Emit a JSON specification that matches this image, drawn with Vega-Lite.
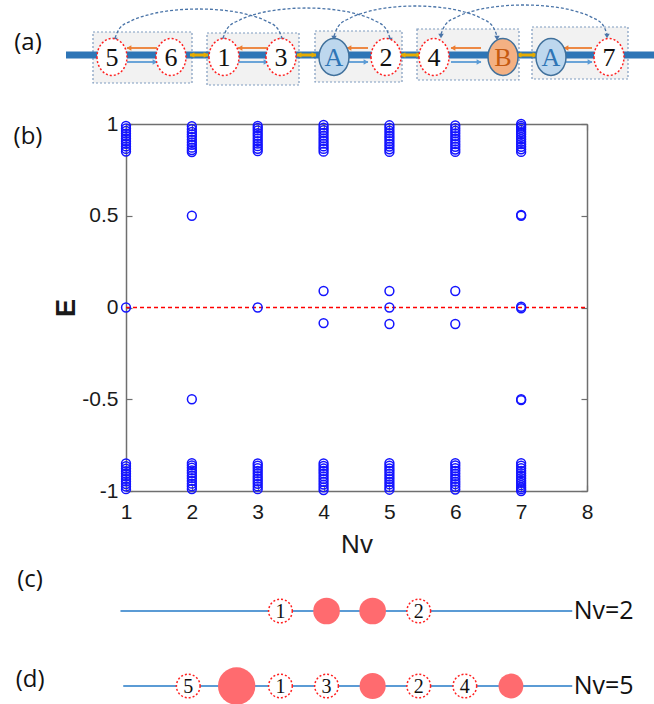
{
  "$schema": "https://vega.github.io/schema/vega-lite/v6.json",
  "width": 461,
  "height": 367,
  "autosize": {"type": "none"},
  "padding": {"left": 126, "top": 124, "right": 67, "bottom": 213},
  "background": "white",
  "config": {
    "view": {"stroke": null},
    "font": "Liberation Sans",
    "axis": {
      "domainColor": "#6f6f6f", "domainWidth": 1.5,
      "tickColor": "#6f6f6f", "tickWidth": 1.2, "tickSize": -6,
      "grid": false,
      "labelFont": "Liberation Sans", "labelFontSize": 21, "labelColor": "#1a1a1a",
      "titleFont": "Liberation Sans", "titleColor": "#1a1a1a"
    }
  },
  "datasets": {
    "spectrum": [
      {"Nv":1,"E":0.99},{"Nv":1,"E":0.976},{"Nv":1,"E":0.962},{"Nv":1,"E":0.948},{"Nv":1,"E":0.934},{"Nv":1,"E":0.92},{"Nv":1,"E":0.906},{"Nv":1,"E":0.892},{"Nv":1,"E":0.878},{"Nv":1,"E":0.864},{"Nv":1,"E":0.85},
      {"Nv":1,"E":-0.85},{"Nv":1,"E":-0.864},{"Nv":1,"E":-0.878},{"Nv":1,"E":-0.892},{"Nv":1,"E":-0.906},{"Nv":1,"E":-0.92},{"Nv":1,"E":-0.934},{"Nv":1,"E":-0.948},{"Nv":1,"E":-0.962},{"Nv":1,"E":-0.976},{"Nv":1,"E":-0.99},
      {"Nv":1,"E":0},
      {"Nv":2,"E":0.988},{"Nv":2,"E":0.972},{"Nv":2,"E":0.957},{"Nv":2,"E":0.943},{"Nv":2,"E":0.93},{"Nv":2,"E":0.915},{"Nv":2,"E":0.9},{"Nv":2,"E":0.886},{"Nv":2,"E":0.871},{"Nv":2,"E":0.858},{"Nv":2,"E":0.847},
      {"Nv":2,"E":-0.848},{"Nv":2,"E":-0.86},{"Nv":2,"E":-0.873},{"Nv":2,"E":-0.888},{"Nv":2,"E":-0.902},{"Nv":2,"E":-0.917},{"Nv":2,"E":-0.93},{"Nv":2,"E":-0.945},{"Nv":2,"E":-0.96},{"Nv":2,"E":-0.974},{"Nv":2,"E":-0.989},
      {"Nv":2,"E":0.5},{"Nv":2,"E":-0.5},
      {"Nv":3,"E":0.99},{"Nv":3,"E":0.978},{"Nv":3,"E":0.965},{"Nv":3,"E":0.95},{"Nv":3,"E":0.936},{"Nv":3,"E":0.921},{"Nv":3,"E":0.907},{"Nv":3,"E":0.893},{"Nv":3,"E":0.879},{"Nv":3,"E":0.865},{"Nv":3,"E":0.852},
      {"Nv":3,"E":-0.85},{"Nv":3,"E":-0.862},{"Nv":3,"E":-0.876},{"Nv":3,"E":-0.89},{"Nv":3,"E":-0.904},{"Nv":3,"E":-0.919},{"Nv":3,"E":-0.933},{"Nv":3,"E":-0.947},{"Nv":3,"E":-0.961},{"Nv":3,"E":-0.975},{"Nv":3,"E":-0.99},
      {"Nv":3,"E":0},
      {"Nv":4,"E":0.995},{"Nv":4,"E":0.98},{"Nv":4,"E":0.966},{"Nv":4,"E":0.952},{"Nv":4,"E":0.937},{"Nv":4,"E":0.922},{"Nv":4,"E":0.908},{"Nv":4,"E":0.893},{"Nv":4,"E":0.878},{"Nv":4,"E":0.864},{"Nv":4,"E":0.849},
      {"Nv":4,"E":-0.849},{"Nv":4,"E":-0.863},{"Nv":4,"E":-0.877},{"Nv":4,"E":-0.891},{"Nv":4,"E":-0.905},{"Nv":4,"E":-0.92},{"Nv":4,"E":-0.935},{"Nv":4,"E":-0.95},{"Nv":4,"E":-0.965},{"Nv":4,"E":-0.98},{"Nv":4,"E":-0.995},
      {"Nv":4,"E":0.09},{"Nv":4,"E":-0.085},
      {"Nv":5,"E":0.993},{"Nv":5,"E":0.979},{"Nv":5,"E":0.964},{"Nv":5,"E":0.95},{"Nv":5,"E":0.935},{"Nv":5,"E":0.921},{"Nv":5,"E":0.906},{"Nv":5,"E":0.891},{"Nv":5,"E":0.877},{"Nv":5,"E":0.862},{"Nv":5,"E":0.848},
      {"Nv":5,"E":-0.848},{"Nv":5,"E":-0.862},{"Nv":5,"E":-0.877},{"Nv":5,"E":-0.891},{"Nv":5,"E":-0.906},{"Nv":5,"E":-0.921},{"Nv":5,"E":-0.935},{"Nv":5,"E":-0.95},{"Nv":5,"E":-0.964},{"Nv":5,"E":-0.979},{"Nv":5,"E":-0.993},
      {"Nv":5,"E":0.09},{"Nv":5,"E":0},{"Nv":5,"E":-0.09},
      {"Nv":6,"E":0.992},{"Nv":6,"E":0.977},{"Nv":6,"E":0.963},{"Nv":6,"E":0.949},{"Nv":6,"E":0.934},{"Nv":6,"E":0.92},{"Nv":6,"E":0.905},{"Nv":6,"E":0.89},{"Nv":6,"E":0.876},{"Nv":6,"E":0.861},{"Nv":6,"E":0.848},
      {"Nv":6,"E":-0.848},{"Nv":6,"E":-0.861},{"Nv":6,"E":-0.876},{"Nv":6,"E":-0.89},{"Nv":6,"E":-0.905},{"Nv":6,"E":-0.92},{"Nv":6,"E":-0.934},{"Nv":6,"E":-0.949},{"Nv":6,"E":-0.963},{"Nv":6,"E":-0.977},{"Nv":6,"E":-0.992},
      {"Nv":6,"E":0.09},{"Nv":6,"E":-0.09},
      {"Nv":7,"E":1.0},{"Nv":7,"E":0.99},{"Nv":7,"E":0.98},{"Nv":7,"E":0.968},{"Nv":7,"E":0.956},{"Nv":7,"E":0.944},{"Nv":7,"E":0.93},{"Nv":7,"E":0.917},{"Nv":7,"E":0.903},{"Nv":7,"E":0.89},{"Nv":7,"E":0.876},{"Nv":7,"E":0.862},{"Nv":7,"E":0.848},
      {"Nv":7,"E":-0.848},{"Nv":7,"E":-0.862},{"Nv":7,"E":-0.876},{"Nv":7,"E":-0.89},{"Nv":7,"E":-0.903},{"Nv":7,"E":-0.917},{"Nv":7,"E":-0.93},{"Nv":7,"E":-0.944},{"Nv":7,"E":-0.956},{"Nv":7,"E":-0.968},{"Nv":7,"E":-0.98},{"Nv":7,"E":-0.99},{"Nv":7,"E":-1.0},
      {"Nv":7,"E":0.505},{"Nv":7,"E":0.5},{"Nv":7,"E":0.004},{"Nv":7,"E":-0.004},{"Nv":7,"E":-0.5},{"Nv":7,"E":-0.505}
    ],
    "zeroline": [{"Nv": 1, "Nv2": 8, "E": 0}],
    "chainBar": [{"pos": 66, "pos2": 660, "h": 0}],
    "boxes": [
      {"pos": 93, "pos2": 192, "h": 23, "h2": -28},
      {"pos": 207, "pos2": 299, "h": 22, "h2": -30},
      {"pos": 315, "pos2": 402, "h": 24, "h2": -27},
      {"pos": 417, "pos2": 519, "h": 26, "h2": -25},
      {"pos": 532, "pos2": 628, "h": 28, "h2": -24}
    ],
    "hops": [
      {"pos": 127, "pos2": 157, "h": 7, "grp": "out"},
      {"pos": 238, "pos2": 268, "h": 7, "grp": "out"},
      {"pos": 347, "pos2": 368, "h": 7, "grp": "out"},
      {"pos": 451, "pos2": 481, "h": 7, "grp": "out"},
      {"pos": 564, "pos2": 592, "h": 7, "grp": "out"},
      {"pos": 127, "pos2": 157, "h": -7, "grp": "in"},
      {"pos": 238, "pos2": 268, "h": -7, "grp": "in"},
      {"pos": 347, "pos2": 368, "h": -7, "grp": "in"},
      {"pos": 451, "pos2": 481, "h": -7, "grp": "in"},
      {"pos": 564, "pos2": 592, "h": -7, "grp": "in"},
      {"pos": 190, "pos2": 208, "h": 0, "grp": "swap"},
      {"pos": 297, "pos2": 316, "h": 0, "grp": "swap"},
      {"pos": 401, "pos2": 421, "h": 0, "grp": "swap"},
      {"pos": 517, "pos2": 537, "h": 0, "grp": "swap"}
    ],
    "heads": [
      {"pos": 129, "h": 7, "dir": "left", "grp": "out"},
      {"pos": 240, "h": 7, "dir": "left", "grp": "out"},
      {"pos": 349, "h": 7, "dir": "left", "grp": "out"},
      {"pos": 453, "h": 7, "dir": "left", "grp": "out"},
      {"pos": 566, "h": 7, "dir": "left", "grp": "out"},
      {"pos": 155, "h": -7, "dir": "right", "grp": "in"},
      {"pos": 266, "h": -7, "dir": "right", "grp": "in"},
      {"pos": 366, "h": -7, "dir": "right", "grp": "in"},
      {"pos": 479, "h": -7, "dir": "right", "grp": "in"},
      {"pos": 590, "h": -7, "dir": "right", "grp": "in"},
      {"pos": 192, "h": 0, "dir": "left", "grp": "swap"},
      {"pos": 206, "h": 0, "dir": "right", "grp": "swap"},
      {"pos": 299, "h": 0, "dir": "left", "grp": "swap"},
      {"pos": 314, "h": 0, "dir": "right", "grp": "swap"},
      {"pos": 403, "h": 0, "dir": "left", "grp": "swap"},
      {"pos": 419, "h": 0, "dir": "right", "grp": "swap"},
      {"pos": 519, "h": 0, "dir": "left", "grp": "swap"},
      {"pos": 535, "h": 0, "dir": "right", "grp": "swap"},
      {"pos": 115, "h": 15, "dir": "down", "grp": "arc"},
      {"pos": 282, "h": 15, "dir": "down", "grp": "arc"},
      {"pos": 223, "h": 15, "dir": "down", "grp": "arc"},
      {"pos": 390, "h": 15, "dir": "down", "grp": "arc"},
      {"pos": 334, "h": 17, "dir": "down", "grp": "arc"},
      {"pos": 497, "h": 17, "dir": "down", "grp": "arc"},
      {"pos": 441, "h": 19, "dir": "down", "grp": "arc"},
      {"pos": 607, "h": 19, "dir": "down", "grp": "arc"}
    ],
    "arcs": [
      {"arc":1,"ord":0,"pos":115,"h":17},{"arc":1,"ord":1,"pos":119.2,"h":26.1},{"arc":1,"ord":2,"pos":131.7,"h":34.4},{"arc":1,"ord":3,"pos":148.4,"h":40.2},{"arc":1,"ord":4,"pos":173.5,"h":44.7},{"arc":1,"ord":5,"pos":198.5,"h":46},{"arc":1,"ord":6,"pos":223.6,"h":44.7},{"arc":1,"ord":7,"pos":248.6,"h":40.2},{"arc":1,"ord":8,"pos":265.3,"h":34.4},{"arc":1,"ord":9,"pos":277.8,"h":26.1},{"arc":1,"ord":10,"pos":282,"h":17},
      {"arc":2,"ord":0,"pos":223,"h":17},{"arc":2,"ord":1,"pos":227.2,"h":26.4},{"arc":2,"ord":2,"pos":239.7,"h":35},{"arc":2,"ord":3,"pos":256.4,"h":41},{"arc":2,"ord":4,"pos":281.5,"h":45.6},{"arc":2,"ord":5,"pos":306.5,"h":47},{"arc":2,"ord":6,"pos":331.6,"h":45.6},{"arc":2,"ord":7,"pos":356.6,"h":41},{"arc":2,"ord":8,"pos":373.3,"h":35},{"arc":2,"ord":9,"pos":385.8,"h":26.4},{"arc":2,"ord":10,"pos":390,"h":17},
      {"arc":3,"ord":0,"pos":334,"h":19},{"arc":3,"ord":1,"pos":338.1,"h":28.4},{"arc":3,"ord":2,"pos":350.3,"h":37},{"arc":3,"ord":3,"pos":366.6,"h":43},{"arc":3,"ord":4,"pos":391.1,"h":47.6},{"arc":3,"ord":5,"pos":415.5,"h":49},{"arc":3,"ord":6,"pos":440,"h":47.6},{"arc":3,"ord":7,"pos":464.4,"h":43},{"arc":3,"ord":8,"pos":480.7,"h":37},{"arc":3,"ord":9,"pos":492.9,"h":28.4},{"arc":3,"ord":10,"pos":497,"h":19},
      {"arc":4,"ord":0,"pos":441,"h":21},{"arc":4,"ord":1,"pos":445.2,"h":30},{"arc":4,"ord":2,"pos":457.6,"h":38.4},{"arc":4,"ord":3,"pos":474.2,"h":44.2},{"arc":4,"ord":4,"pos":499.1,"h":48.7},{"arc":4,"ord":5,"pos":524,"h":50},{"arc":4,"ord":6,"pos":548.9,"h":48.7},{"arc":4,"ord":7,"pos":573.8,"h":44.2},{"arc":4,"ord":8,"pos":590.4,"h":38.4},{"arc":4,"ord":9,"pos":602.9,"h":30},{"arc":4,"ord":10,"pos":607,"h":21}
    ],
    "chainNodes": [
      {"pos": 112, "h": -2, "label": "5", "kind": "site"},
      {"pos": 171, "h": -2, "label": "6", "kind": "site"},
      {"pos": 224, "h": -2, "label": "1", "kind": "site"},
      {"pos": 281, "h": -2, "label": "3", "kind": "site"},
      {"pos": 334, "h": -2, "label": "A", "kind": "A"},
      {"pos": 386, "h": -2, "label": "2", "kind": "site"},
      {"pos": 434, "h": -2, "label": "4", "kind": "site"},
      {"pos": 503, "h": -2, "label": "B", "kind": "B"},
      {"pos": 551, "h": -2, "label": "A", "kind": "A"},
      {"pos": 609, "h": -2, "label": "7", "kind": "site"}
    ],
    "panelLabelsTop": [
      {"pos": 28, "h": 12, "text": "(a)"},
      {"pos": 28, "h": -82, "text": "(b)"}
    ],
    "lattLines": [
      {"site": -1.47, "site2": 8.33, "row": 0},
      {"site": -1.41, "site2": 8.33, "row": 1}
    ],
    "occupied": [
      {"site": 3, "row": 0, "amp": 1},
      {"site": 4, "row": 0, "amp": 1},
      {"site": 1.05, "row": 1, "amp": 1.4},
      {"site": 4, "row": 1, "amp": 0.98},
      {"site": 7, "row": 1, "amp": 0.93}
    ],
    "vortices": [
      {"site": 2, "row": 0, "label": "1"},
      {"site": 5, "row": 0, "label": "2"},
      {"site": 0, "row": 1, "label": "5"},
      {"site": 2, "row": 1, "label": "1"},
      {"site": 3, "row": 1, "label": "3"},
      {"site": 5, "row": 1, "label": "2"},
      {"site": 6, "row": 1, "label": "4"}
    ],
    "rowTags": [
      {"site": 8.36, "row": 0, "text": "Nv=2"},
      {"site": 8.36, "row": 1, "text": "Nv=5"}
    ],
    "panelLabelsBottom": [
      {"site": -3.43, "row": -0.41, "text": "(c)"},
      {"site": -3.43, "row": 0.92, "text": "(d)"}
    ]
  },
  "layer": [
    {
      "layer": [
        {
          "data": {"name": "zeroline"},
          "mark": {"type": "rule", "stroke": "#ff0000", "color": "#ff0000", "strokeDash": [4, 3], "strokeWidth": 1.4, "opacity": 1},
          "encoding": {
            "x": {"field": "Nv", "type": "quantitative", "scale": {"domain": [1, 8], "nice": false, "zero": false},
                  "axis": {"orient": "top", "values": [1, 2, 3, 4, 5, 6, 7, 8], "labels": false, "title": null}},
            "x2": {"field": "Nv2"},
            "y": {"field": "E", "type": "quantitative", "scale": {"domain": [-1, 1], "nice": false, "zero": false},
                  "axis": {"orient": "right", "values": [-1, -0.5, 0, 0.5, 1], "labels": false, "title": null}}
          }
        },
        {
          "data": {"name": "spectrum"},
          "mark": {"type": "point", "shape": "circle", "filled": false, "size": 78, "strokeWidth": 1.5, "color": "#1414ff", "opacity": 1},
          "encoding": {
            "x": {"field": "Nv", "type": "quantitative", "scale": {"domain": [1, 8], "nice": false, "zero": false},
                  "axis": {"orient": "bottom", "values": [1, 2, 3, 4, 5, 6, 7, 8], "format": "d", "labelFlush": false, "labelOverlap": false, "labelPadding": 16,
                           "title": "Nv", "titleFontSize": 26, "titleFontWeight": "normal", "titlePadding": 9}},
            "y": {"field": "E", "type": "quantitative", "scale": {"domain": [-1, 1], "nice": false, "zero": false},
                  "axis": {"orient": "left", "values": [-1, -0.5, 0, 0.5, 1], "format": "~g", "labelExpr": "replace(datum.label, '\u2212', '-')",
                           "labelFlush": false, "labelOverlap": false, "labelPadding": 14,
                           "title": "E", "titleFontSize": 27, "titleFontWeight": "bold", "titlePadding": 1}}
          }
        }
      ],
      "resolve": {"axis": {"x": "independent", "y": "independent"}}
    },
    {
      "layer": [
        {
          "data": {"name": "boxes"},
          "mark": {"type": "rect", "fill": "#f2f2f2", "stroke": "#7f9bbf", "strokeDash": [2, 2], "strokeWidth": 1.2},
          "encoding": {
            "x": {"field": "pos", "type": "quantitative", "scale": {"domain": [126, 587], "nice": false, "zero": false}, "axis": null},
            "x2": {"field": "pos2"},
            "y": {"field": "h", "type": "quantitative", "scale": {"domain": [-436, -69], "nice": false, "zero": false}, "axis": null},
            "y2": {"field": "h2"}
          }
        },
        {
          "data": {"name": "chainBar"},
          "mark": {"type": "rule", "color": "#2e75b6", "strokeWidth": 7},
          "encoding": {
            "x": {"field": "pos", "type": "quantitative", "scale": {"domain": [126, 587], "nice": false, "zero": false}, "axis": null},
            "x2": {"field": "pos2"},
            "y": {"field": "h", "type": "quantitative", "scale": {"domain": [-436, -69], "nice": false, "zero": false}, "axis": null}
          }
        },
        {
          "data": {"name": "hops"},
          "transform": [{"filter": "datum.grp != 'swap'"}],
          "mark": {"type": "rule", "strokeWidth": 1.8},
          "encoding": {
            "x": {"field": "pos", "type": "quantitative", "scale": {"domain": [126, 587], "nice": false, "zero": false}, "axis": null},
            "x2": {"field": "pos2"},
            "y": {"field": "h", "type": "quantitative", "scale": {"domain": [-436, -69], "nice": false, "zero": false}, "axis": null},
            "color": {"field": "grp", "type": "nominal", "scale": {"domain": ["arc", "out", "in", "swap"], "range": ["#4a74a8", "#ed7d31", "#5b9bd5", "#e6ac00"]}, "legend": null}
          }
        },
        {
          "data": {"name": "hops"},
          "transform": [{"filter": "datum.grp == 'swap'"}],
          "mark": {"type": "rule", "strokeWidth": 3},
          "encoding": {
            "x": {"field": "pos", "type": "quantitative", "scale": {"domain": [126, 587], "nice": false, "zero": false}, "axis": null},
            "x2": {"field": "pos2"},
            "y": {"field": "h", "type": "quantitative", "scale": {"domain": [-436, -69], "nice": false, "zero": false}, "axis": null},
            "color": {"field": "grp", "type": "nominal", "scale": {"domain": ["arc", "out", "in", "swap"], "range": ["#4a74a8", "#ed7d31", "#5b9bd5", "#e6ac00"]}, "legend": null}
          }
        },
        {
          "data": {"name": "arcs"},
          "mark": {"type": "line", "interpolate": "monotone", "strokeDash": [3, 2], "strokeWidth": 1.3, "color": "#4a74a8"},
          "encoding": {
            "x": {"field": "pos", "type": "quantitative", "scale": {"domain": [126, 587], "nice": false, "zero": false}, "axis": null},
            "y": {"field": "h", "type": "quantitative", "scale": {"domain": [-436, -69], "nice": false, "zero": false}, "axis": null},
            "detail": {"field": "arc", "type": "nominal"},
            "order": {"field": "ord", "type": "quantitative"}
          }
        },
        {
          "data": {"name": "heads"},
          "mark": {"type": "point", "filled": true, "size": 30, "opacity": 1},
          "encoding": {
            "x": {"field": "pos", "type": "quantitative", "scale": {"domain": [126, 587], "nice": false, "zero": false}, "axis": null},
            "y": {"field": "h", "type": "quantitative", "scale": {"domain": [-436, -69], "nice": false, "zero": false}, "axis": null},
            "shape": {"field": "dir", "type": "nominal", "scale": {"domain": ["left", "right", "down"], "range": ["triangle-left", "triangle-right", "triangle-down"]}, "legend": null},
            "color": {"field": "grp", "type": "nominal", "scale": {"domain": ["arc", "out", "in", "swap"], "range": ["#4a74a8", "#ed7d31", "#5b9bd5", "#e6ac00"]}, "legend": null}
          }
        },
        {
          "data": {"name": "chainNodes"},
          "transform": [{"filter": "datum.kind == 'site'"}],
          "mark": {"type": "point", "shape": "M-0.81,0A0.81,1,0,1,0,0.81,0A0.81,1,0,1,0,-0.81,0Z", "size": 1369, "filled": true, "fill": "#ffffff", "stroke": "#ff2020", "strokeDash": [2, 2], "strokeWidth": 1.5, "opacity": 1},
          "encoding": {
            "x": {"field": "pos", "type": "quantitative", "scale": {"domain": [126, 587], "nice": false, "zero": false}, "axis": null},
            "y": {"field": "h", "type": "quantitative", "scale": {"domain": [-436, -69], "nice": false, "zero": false}, "axis": null}
          }
        },
        {
          "data": {"name": "chainNodes"},
          "transform": [{"filter": "datum.kind == 'A'"}],
          "mark": {"type": "point", "shape": "M-0.81,0A0.81,1,0,1,0,0.81,0A0.81,1,0,1,0,-0.81,0Z", "size": 1369, "filled": true, "fill": "#bdd7ee", "stroke": "#41719c", "strokeWidth": 1.5, "opacity": 1},
          "encoding": {
            "x": {"field": "pos", "type": "quantitative", "scale": {"domain": [126, 587], "nice": false, "zero": false}, "axis": null},
            "y": {"field": "h", "type": "quantitative", "scale": {"domain": [-436, -69], "nice": false, "zero": false}, "axis": null}
          }
        },
        {
          "data": {"name": "chainNodes"},
          "transform": [{"filter": "datum.kind == 'B'"}],
          "mark": {"type": "point", "shape": "M-0.81,0A0.81,1,0,1,0,0.81,0A0.81,1,0,1,0,-0.81,0Z", "size": 1369, "filled": true, "fill": "#f4b183", "stroke": "#41719c", "strokeWidth": 1.5, "opacity": 1},
          "encoding": {
            "x": {"field": "pos", "type": "quantitative", "scale": {"domain": [126, 587], "nice": false, "zero": false}, "axis": null},
            "y": {"field": "h", "type": "quantitative", "scale": {"domain": [-436, -69], "nice": false, "zero": false}, "axis": null}
          }
        },
        {
          "data": {"name": "chainNodes"},
          "transform": [{"filter": "datum.kind == 'site'"}],
          "mark": {"type": "text", "font": "Liberation Serif", "fontSize": 26, "baseline": "middle", "align": "center", "color": "#111111", "dy": 1},
          "encoding": {
            "x": {"field": "pos", "type": "quantitative", "scale": {"domain": [126, 587], "nice": false, "zero": false}, "axis": null},
            "y": {"field": "h", "type": "quantitative", "scale": {"domain": [-436, -69], "nice": false, "zero": false}, "axis": null},
            "text": {"field": "label"}
          }
        },
        {
          "data": {"name": "chainNodes"},
          "transform": [{"filter": "datum.kind == 'A'"}],
          "mark": {"type": "text", "font": "Liberation Serif", "fontSize": 26, "baseline": "middle", "align": "center", "color": "#2e75b6", "dy": 1},
          "encoding": {
            "x": {"field": "pos", "type": "quantitative", "scale": {"domain": [126, 587], "nice": false, "zero": false}, "axis": null},
            "y": {"field": "h", "type": "quantitative", "scale": {"domain": [-436, -69], "nice": false, "zero": false}, "axis": null},
            "text": {"field": "label"}
          }
        },
        {
          "data": {"name": "chainNodes"},
          "transform": [{"filter": "datum.kind == 'B'"}],
          "mark": {"type": "text", "font": "Liberation Serif", "fontSize": 26, "baseline": "middle", "align": "center", "color": "#c55a11", "dy": 1},
          "encoding": {
            "x": {"field": "pos", "type": "quantitative", "scale": {"domain": [126, 587], "nice": false, "zero": false}, "axis": null},
            "y": {"field": "h", "type": "quantitative", "scale": {"domain": [-436, -69], "nice": false, "zero": false}, "axis": null},
            "text": {"field": "label"}
          }
        },
        {
          "data": {"name": "panelLabelsTop"},
          "mark": {"type": "text", "font": "Open Sans", "fontSize": 24, "baseline": "middle", "align": "center", "color": "#111111"},
          "encoding": {
            "x": {"field": "pos", "type": "quantitative", "scale": {"domain": [126, 587], "nice": false, "zero": false}, "axis": null},
            "y": {"field": "h", "type": "quantitative", "scale": {"domain": [-436, -69], "nice": false, "zero": false}, "axis": null},
            "text": {"field": "text"}
          }
        }
      ]
    },
    {
      "layer": [
        {
          "data": {"name": "lattLines"},
          "mark": {"type": "rule", "color": "#5b9bd5", "strokeWidth": 2},
          "encoding": {
            "x": {"field": "site", "type": "quantitative", "scale": {"domain": [-1.35, 8.65], "nice": false, "zero": false}, "axis": null},
            "x2": {"field": "site2"},
            "y": {"field": "row", "type": "quantitative", "scale": {"domain": [-6.493, -1.6], "reverse": true, "nice": false, "zero": false}, "axis": null}
          }
        },
        {
          "data": {"name": "occupied"},
          "mark": {"type": "point", "shape": "circle", "filled": true, "color": "#ff6b6f", "opacity": 1},
          "encoding": {
            "x": {"field": "site", "type": "quantitative", "scale": {"domain": [-1.35, 8.65], "nice": false, "zero": false}, "axis": null},
            "y": {"field": "row", "type": "quantitative", "scale": {"domain": [-6.493, -1.6], "reverse": true, "nice": false, "zero": false}, "axis": null},
            "size": {"field": "amp", "type": "quantitative", "scale": {"type": "pow", "exponent": 2, "domain": [0, 1.5], "range": [0, 1600]}, "legend": null}
          }
        },
        {
          "data": {"name": "vortices"},
          "mark": {"type": "point", "shape": "circle", "size": 560, "filled": true, "fill": "#ffffff", "stroke": "#ff2020", "strokeDash": [2, 2], "strokeWidth": 1.5, "opacity": 1},
          "encoding": {
            "x": {"field": "site", "type": "quantitative", "scale": {"domain": [-1.35, 8.65], "nice": false, "zero": false}, "axis": null},
            "y": {"field": "row", "type": "quantitative", "scale": {"domain": [-6.493, -1.6], "reverse": true, "nice": false, "zero": false}, "axis": null}
          }
        },
        {
          "data": {"name": "vortices"},
          "mark": {"type": "text", "font": "Liberation Serif", "fontSize": 20, "baseline": "middle", "align": "center", "color": "#111111", "dy": 1},
          "encoding": {
            "x": {"field": "site", "type": "quantitative", "scale": {"domain": [-1.35, 8.65], "nice": false, "zero": false}, "axis": null},
            "y": {"field": "row", "type": "quantitative", "scale": {"domain": [-6.493, -1.6], "reverse": true, "nice": false, "zero": false}, "axis": null},
            "text": {"field": "label"}
          }
        },
        {
          "data": {"name": "rowTags"},
          "mark": {"type": "text", "font": "Open Sans", "fontSize": 25, "baseline": "middle", "align": "left", "color": "#111111"},
          "encoding": {
            "x": {"field": "site", "type": "quantitative", "scale": {"domain": [-1.35, 8.65], "nice": false, "zero": false}, "axis": null},
            "y": {"field": "row", "type": "quantitative", "scale": {"domain": [-6.493, -1.6], "reverse": true, "nice": false, "zero": false}, "axis": null},
            "text": {"field": "text"}
          }
        },
        {
          "data": {"name": "panelLabelsBottom"},
          "mark": {"type": "text", "font": "Open Sans", "fontSize": 24, "baseline": "middle", "align": "center", "color": "#111111"},
          "encoding": {
            "x": {"field": "site", "type": "quantitative", "scale": {"domain": [-1.35, 8.65], "nice": false, "zero": false}, "axis": null},
            "y": {"field": "row", "type": "quantitative", "scale": {"domain": [-6.493, -1.6], "reverse": true, "nice": false, "zero": false}, "axis": null},
            "text": {"field": "text"}
          }
        }
      ]
    }
  ],
  "resolve": {"scale": {"x": "independent", "y": "independent"}}
}
